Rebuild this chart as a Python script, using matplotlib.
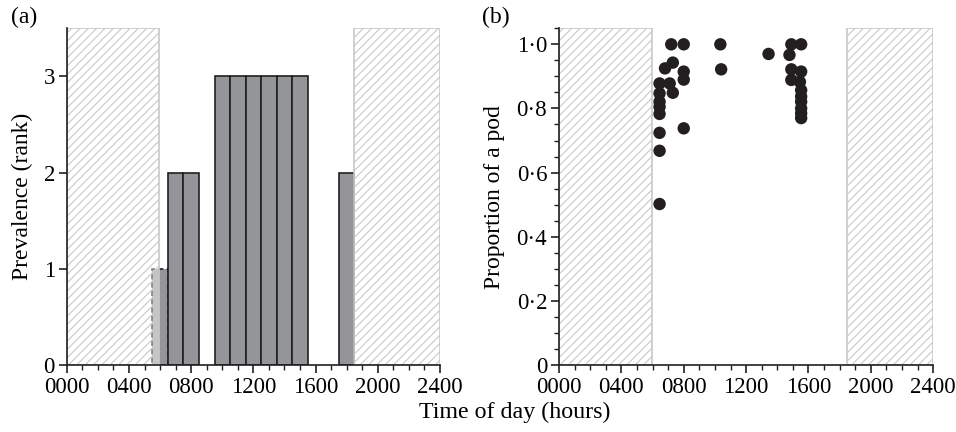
import matplotlib
matplotlib.use('Agg')
import matplotlib.pyplot as plt
import matplotlib.patches as mpatches
from matplotlib.ticker import MultipleLocator, FuncFormatter

plt.rcParams['font.family'] = ['Liberation Serif', 'DejaVu Serif']
plt.rcParams['hatch.linewidth'] = 0.8

# Night periods (hours, 0000-2400 clock)
NIGHT = [(0, 595), (1845, 2400)]

# Panel (a): prevalence rank per 100-h block (left edge of block)
bar_start = [550, 650, 750, 950, 1050, 1150, 1250, 1350, 1450, 1750]
bar_rank = [1, 2, 2, 3, 3, 3, 3, 3, 3, 2]

# Panel (b): proportion of the pod present vs time of day
obs_time = [720, 800, 730, 680, 800, 800, 645, 710, 730, 645, 645, 645, 645,
            645, 800, 645, 645,
            1035, 1040, 1344,
            1490, 1553, 1478, 1490, 1553, 1490, 1545, 1553, 1553, 1553, 1553,
            1553, 1553]
obs_prop = [1.0, 1.0, 0.943, 0.925, 0.915, 0.89, 0.878, 0.878, 0.849, 0.847,
            0.821, 0.805, 0.783, 0.724, 0.738, 0.668, 0.502,
            1.0, 0.922, 0.97,
            1.0, 1.0, 0.967, 0.922, 0.915, 0.889, 0.883, 0.857, 0.837, 0.821,
            0.80, 0.785, 0.77]

BAR_COLOR = '#939598'
EDGE = '#231f20'
HATCH_GRAY = '#c8c8c8'


def draw_night(ax, ymax):
    for x0, x1 in NIGHT:
        ax.add_patch(mpatches.Rectangle((x0, 0), x1 - x0, ymax, facecolor=(1, 1, 1, 0.45),
                                        edgecolor='none', zorder=2))
        ax.add_patch(mpatches.Rectangle((x0, 0), x1 - x0, ymax, facecolor='none',
                                        edgecolor=HATCH_GRAY, hatch='////', linewidth=1.2,
                                        zorder=2.1))


def style_axes(ax):
    for s in ['top', 'right']:
        ax.spines[s].set_visible(False)
    for s in ['left', 'bottom']:
        ax.spines[s].set_linewidth(1.2)
        ax.spines[s].set_color(EDGE)
        ax.spines[s].set_zorder(3)
    ax.set_xlim(0, 2400)
    ax.xaxis.set_major_locator(MultipleLocator(400))
    ax.xaxis.set_minor_locator(MultipleLocator(100))
    ax.xaxis.set_major_formatter(FuncFormatter(lambda v, p: f'{int(v):04d}'))
    ax.tick_params(axis='both', which='major', direction='out', length=6, width=1.2,
                   labelsize=16.5, color=EDGE, pad=2.5)
    ax.tick_params(axis='both', which='minor', direction='out', length=3.5, width=1.0,
                   color=EDGE)


fig = plt.figure(figsize=(9.56, 4.32), dpi=100)
ax1 = fig.add_axes([0.0698, 0.1551, 0.3905, 0.7794])
ax2 = fig.add_axes([0.5847, 0.1551, 0.3915, 0.7794])

# (a) bars
bars = ax1.bar(bar_start, bar_rank, width=100, align='edge', color=BAR_COLOR,
               edgecolor=EDGE, linewidth=1.2, zorder=1.5)
bars[0].set_linestyle((0, (3, 2)))
draw_night(ax1, 3.5)
style_axes(ax1)
ax1.set_ylim(0, 3.5)
ax1.set_yticks([0, 1, 2, 3])
ax1.set_ylabel('Prevalence (rank)', fontsize=17)
ax1.yaxis.set_label_coords(-0.09, 0.5)

# (b) scatter
draw_night(ax2, 1.05)
ax2.scatter(obs_time, obs_prop, s=80, color=EDGE, edgecolors='none', zorder=4,
            clip_on=False)
style_axes(ax2)
ax2.set_ylim(0, 1.05)
ax2.yaxis.set_major_locator(MultipleLocator(0.2))
ax2.yaxis.set_minor_locator(MultipleLocator(0.05))
ax2.yaxis.set_major_formatter(FuncFormatter(
    lambda v, p: '0' if abs(v) < 1e-9 else f'{v:.1f}'.replace('.', '\u00b7')))
ax2.set_ylabel('Proportion of a pod', fontsize=17)
ax2.yaxis.set_label_coords(-0.144, 0.5)

fig.text(24 / 956, 1 - 17 / 432, '(a)', fontsize=17, ha='center', va='center')
fig.text(496 / 956, 1 - 17 / 432, '(b)', fontsize=17, ha='center', va='center')
fig.text(515 / 956, 1 - 412 / 432, 'Time of day (hours)', fontsize=17.3,
         ha='center', va='center')

fig.savefig('out.png', dpi=100)
